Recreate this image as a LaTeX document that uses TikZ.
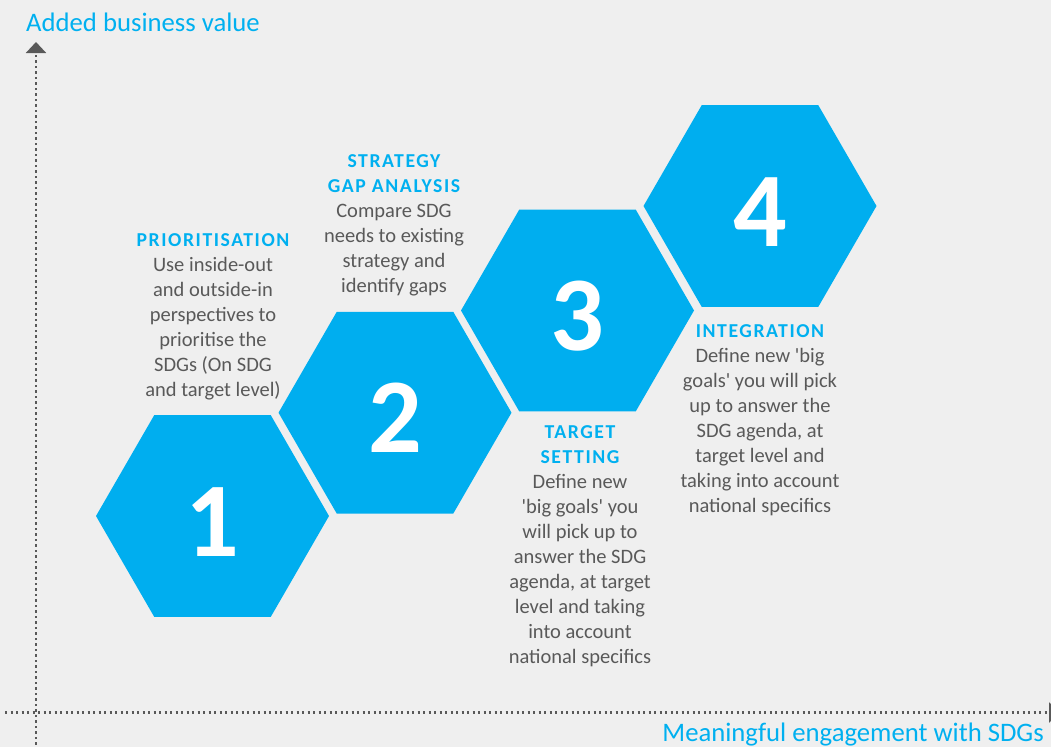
\documentclass[tikz,border=0pt]{standalone}
\usepackage{fontspec}
\setmainfont{Carlito}
\usetikzlibrary{shapes.geometric,arrows.meta}
\definecolor{sdgblue}{HTML}{00AEEF}
\definecolor{sdgtext}{HTML}{00B0F0}
\definecolor{sdggrey}{HTML}{595959}
\definecolor{sdgback}{HTML}{EFEFEF}
\newcommand{\steptitle}[1]{{\fontsize{19.7}{25}\selectfont\bfseries\addfontfeatures{LetterSpace=8}\color{sdgtext}#1}}
\newcommand{\q}{\textquotesingle}
\tikzset{
  hexa/.style={regular polygon, regular polygon sides=6, minimum size=233pt,
    inner sep=0pt, outer sep=0pt, fill=sdgblue, text=white,
    text height=80pt, text depth=0pt,
    font=\fontsize{106}{106}\selectfont\bfseries},
  stepnote/.style={anchor=north, align=center, inner sep=0pt, text=sdggrey,
    font=\fontsize{20.5}{25}\selectfont},
  axislabel/.style={inner sep=0pt, text=sdgtext, font=\fontsize{26.7}{30}\selectfont},
  axisline/.style={sdggrey, line width=2.1pt, dash pattern=on 2.1pt off 3.4pt,
    -{Triangle[width=20pt,length=11pt]}}
}
\begin{document}
\begin{tikzpicture}[x=1pt,y=-1pt]
\useasboundingbox (0,0) rectangle (1051,747);
\clip (0,0) rectangle (1051,747);
\fill[sdgback] (0,0) rectangle (1051,747);
% axes
\coordinate (xstart) at (5,712.5);
\coordinate (xend) at (1060,712.5);
\coordinate (ystart) at (36,750);
\coordinate (yend) at (36,42);
\draw[axisline] (xstart) -- (xend);
\draw[axisline] (ystart) -- (yend);
\node[axislabel, anchor=base west] (yaxis) at (26,31) {Added business value};
\node[axislabel, anchor=base east] (xaxis) at (1044,741) {Meaningful engagement with SDGs};
% hexagons
\foreach \i/\x/\y in {1/212.5/516, 2/395/412.7, 3/577.5/310.5, 4/760/206}
  \node[hexa] (hex\i) at (\x,\y) {\i};
% step notes
\node[stepnote] (prior) at (213,233) {\steptitle{PRIORITISATION}\\
  Use inside-out\\ and outside-in\\ perspectives to\\ prioritise the\\
  SDGs (On SDG\\ and target level)};
\node[stepnote] (gap) at (394,154.5) {\steptitle{STRATEGY}\\ \steptitle{GAP ANALYSIS}\\
  Compare SDG\\ needs to existing\\ strategy and\\ identify gaps};
\node[stepnote] (target) at (580,425) {\steptitle{TARGET}\\ \steptitle{SETTING}\\
  Define new\\ \q big goals\q{} you\\ will pick up to\\ answer the SDG\\
  agenda, at target\\ level and taking\\ into account\\ national specifics};
\node[stepnote] (integ) at (760,324.5) {\steptitle{INTEGRATION}\\
  Define new \q big\\ goals\q{} you will pick\\ up to answer the\\ SDG agenda, at\\
  target level and\\ taking into account\\ national specifics};
\end{tikzpicture}
\end{document}
